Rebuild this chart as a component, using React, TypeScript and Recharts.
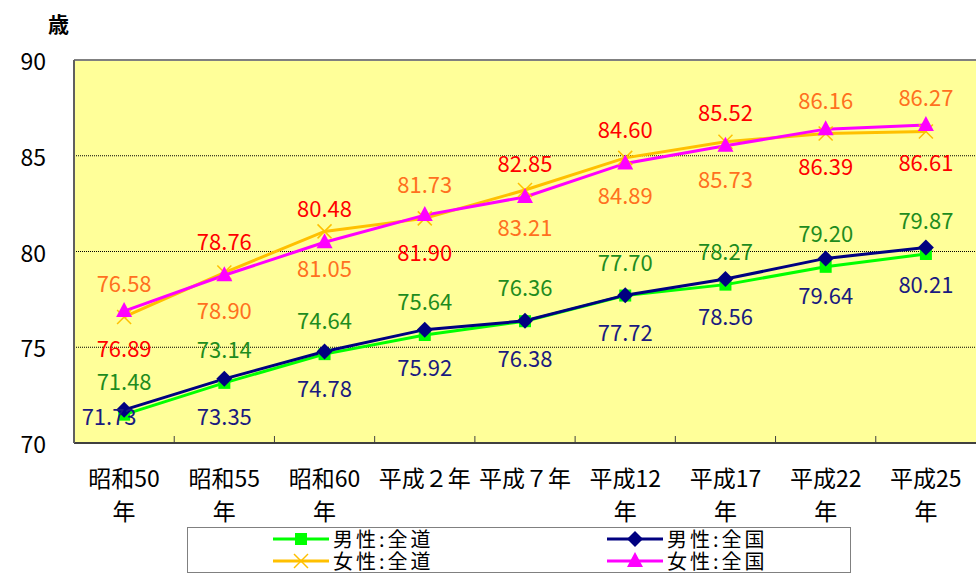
import React from "react"
import {
  LineChart,
  Line,
  XAxis,
  YAxis,
  CartesianGrid,
  ReferenceLine,
  LabelList,
} from "recharts"

const categories = [
  "昭和50年",
  "昭和55年",
  "昭和60年",
  "平成２年",
  "平成７年",
  "平成12年",
  "平成17年",
  "平成22年",
  "平成25年",
]

const maleHokkaido = [71.48, 73.14, 74.64, 75.64, 76.36, 77.7, 78.27, 79.2, 79.87]
const maleJapan = [71.73, 73.35, 74.78, 75.92, 76.38, 77.72, 78.56, 79.64, 80.21]
const femaleHokkaido = [76.58, 78.9, 81.05, 81.73, 83.21, 84.89, 85.73, 86.16, 86.27]
const femaleJapan = [76.89, 78.76, 80.48, 81.9, 82.85, 84.6, 85.52, 86.39, 86.61]

const yTicks = [70, 75, 80, 85, 90]
const gridValues = [75, 80, 85]

// where each data label sits relative to its point
type Place = "above" | "below"
const maleHokkaidoPlace: Place[] = Array(9).fill("above")
const maleJapanPlace: Place[] = Array(9).fill("below")
const femaleHokkaidoPlace: Place[] = ["above", "below", "below", "above", "below", "below", "below", "above", "above"]
const femaleJapanPlace: Place[] = ["below", "above", "above", "below", "above", "above", "above", "below", "below"]

const data = categories.map((name, i) => ({
  name,
  maleHokkaido: maleHokkaido[i],
  maleJapan: maleJapan[i],
  femaleHokkaido: femaleHokkaido[i],
  femaleJapan: femaleJapan[i],
}))

const W = 976
const H = 578
const PLOT_LEFT = 74
const PLOT_TOP = 60
const PLOT_BOTTOM = 443
const BAND = (W - PLOT_LEFT) / categories.length
const FONT = "'Noto Sans CJK JP', 'Noto Sans', sans-serif"

if (typeof document !== "undefined") document.body.style.margin = "0"

const makeLabel = (color: string, places: Place[]) => (props: any) => {
  const { x, y, value, index } = props
  let cx = x
  let cy = places[index] === "above" ? y - 35 : y + 36
  if (cy > PLOT_BOTTOM - 28) {
    cy = PLOT_BOTTOM - 28
    cx -= 15
  }
  return (
    <text
      x={cx}
      y={cy}
      fill={color}
      fontSize={22}
      fontFamily={FONT}
      textAnchor="middle"
      dominantBaseline="central"
    >
      {Number(value).toFixed(2)}
    </text>
  )
}

const SquareDot = (props: any) => {
  const { cx, cy } = props
  return <rect x={cx - 6} y={cy - 6} width={12} height={12} fill="#00FF00" />
}

const DiamondDot = (props: any) => {
  const { cx, cy } = props
  return <polygon points={`${cx},${cy - 8} ${cx + 8},${cy} ${cx},${cy + 8} ${cx - 8},${cy}`} fill="#000080" />
}

const CrossDot = (props: any) => {
  const { cx, cy } = props
  return (
    <g stroke="#FFC000" strokeWidth={1.5}>
      <line x1={cx - 7} y1={cy - 7} x2={cx + 7} y2={cy + 7} />
      <line x1={cx - 7} y1={cy + 7} x2={cx + 7} y2={cy - 7} />
    </g>
  )
}

const TriangleDot = (props: any) => {
  const { cx, cy } = props
  return <polygon points={`${cx},${cy - 9} ${cx + 8},${cy + 6} ${cx - 8},${cy + 6}`} fill="#FF00FF" />
}

const XTick = (props: any) => {
  const { x, payload, index } = props
  const label: string = payload.value
  // labels with half-width digits wrap before 年
  const lines = /\d\d年$/.test(label) ? [label.slice(0, -1), "年"] : [label]
  return (
    <g>
      {index > 0 && (
        <line x1={x - BAND / 2} x2={x - BAND / 2} y1={PLOT_BOTTOM - 7} y2={PLOT_BOTTOM} stroke="#404040" strokeWidth={1} />
      )}
      {lines.map((l, i) => (
        <text
          key={i}
          x={x}
          y={PLOT_BOTTOM + 34 + i * 33}
          fontSize={23}
          fontFamily={FONT}
          fill="#000"
          textAnchor="middle"
          dominantBaseline="central"
        >
          {l}
        </text>
      ))}
    </g>
  )
}

const YTick = (props: any) => {
  const { y, payload } = props
  return (
    <text
      x={PLOT_LEFT - 28}
      y={y}
      fontSize={23}
      fontFamily={FONT}
      fill="#000"
      textAnchor="end"
      dominantBaseline="central"
    >
      {payload.value}
    </text>
  )
}

const legendItems = [
  { name: "男性:全道", color: "#00FF00", marker: "square" },
  { name: "男性:全国", color: "#000080", marker: "diamond" },
  { name: "女性:全道", color: "#FFC000", marker: "cross" },
  { name: "女性:全国", color: "#FF00FF", marker: "triangle" },
]

const LegendIcon = ({ color, marker }: { color: string; marker: string }) => (
  <svg width={56} height={20}>
    <line x1={0} x2={56} y1={10} y2={10} stroke={color} strokeWidth={3} />
    {marker === "square" && <rect x={22} y={4} width={12} height={12} fill={color} />}
    {marker === "diamond" && <polygon points="28,2 36,10 28,18 20,10" fill={color} />}
    {marker === "cross" && (
      <g stroke={color} strokeWidth={1.5}>
        <line x1={21} y1={3} x2={35} y2={17} />
        <line x1={21} y1={17} x2={35} y2={3} />
      </g>
    )}
    {marker === "triangle" && <polygon points="28,1 36,16 20,16" fill={color} />}
  </svg>
)

export default function App() {
  return (
    <div style={{ position: "relative", width: W, height: H, background: "#fff", fontFamily: FONT }}>
      <LineChart
        width={W}
        height={H}
        data={data}
        margin={{ top: PLOT_TOP, right: 0, left: 0, bottom: 0 }}
      >
        <CartesianGrid fill="#FFFF99" fillOpacity={1} horizontal={false} vertical={false} />
        <ReferenceLine y={90} stroke="#808080" strokeWidth={2} />
        {gridValues.map((v) => (
          <ReferenceLine key={v} y={v} stroke="#000" strokeDasharray="1 1" strokeWidth={1} />
        ))}
        <XAxis
          dataKey="name"
          axisLine={{ stroke: "#404040", strokeWidth: 2 }}
          tickLine={false}
          tick={<XTick />}
          interval={0}
          height={H - PLOT_BOTTOM}
          padding={{ left: BAND / 2, right: BAND / 2 }}
        />
        <YAxis
          domain={[70, 90]}
          ticks={yTicks}
          axisLine={{ stroke: "#606060", strokeWidth: 2 }}
          tickLine={false}
          tick={<YTick />}
          width={PLOT_LEFT}
          interval={0}
        />
        <Line
          dataKey="maleHokkaido"
          stroke="#00FF00"
          strokeWidth={3}
          dot={<SquareDot />}
          isAnimationActive={false}
        >
          <LabelList dataKey="maleHokkaido" content={makeLabel("#1E8C1E", maleHokkaidoPlace)} />
        </Line>
        <Line
          dataKey="maleJapan"
          stroke="#000080"
          strokeWidth={3}
          dot={<DiamondDot />}
          isAnimationActive={false}
        >
          <LabelList dataKey="maleJapan" content={makeLabel("#1A1A80", maleJapanPlace)} />
        </Line>
        <Line
          dataKey="femaleHokkaido"
          stroke="#FFC000"
          strokeWidth={3}
          dot={<CrossDot />}
          isAnimationActive={false}
        >
          <LabelList dataKey="femaleHokkaido" content={makeLabel("#FF7020", femaleHokkaidoPlace)} />
        </Line>
        <Line
          dataKey="femaleJapan"
          stroke="#FF00FF"
          strokeWidth={3}
          dot={<TriangleDot />}
          isAnimationActive={false}
        >
          <LabelList dataKey="femaleJapan" content={makeLabel("#FF0000", femaleJapanPlace)} />
        </Line>
      </LineChart>

      <div
        style={{
          position: "absolute",
          left: 48,
          top: 8,
          fontSize: 21,
          fontWeight: "bold",
        }}
      >
        歳
      </div>

      <div
        style={{
          position: "absolute",
          left: 187,
          top: 527,
          width: 664,
          height: 46,
          border: "1px solid #808080",
          background: "#fff",
          boxSizing: "border-box",
          display: "grid",
          gridTemplateColumns: "334px 330px",
          gridTemplateRows: "22px 22px",
          alignItems: "center",
        }}
      >
        {legendItems.map((it) => (
          <div key={it.name} style={{ display: "flex", alignItems: "center", paddingLeft: 85, fontSize: 20, lineHeight: "20px" }}>
            <LegendIcon color={it.color} marker={it.marker} />
            <span style={{ marginLeft: 4, letterSpacing: 3 }}>{it.name}</span>
          </div>
        ))}
      </div>
    </div>
  )
}
